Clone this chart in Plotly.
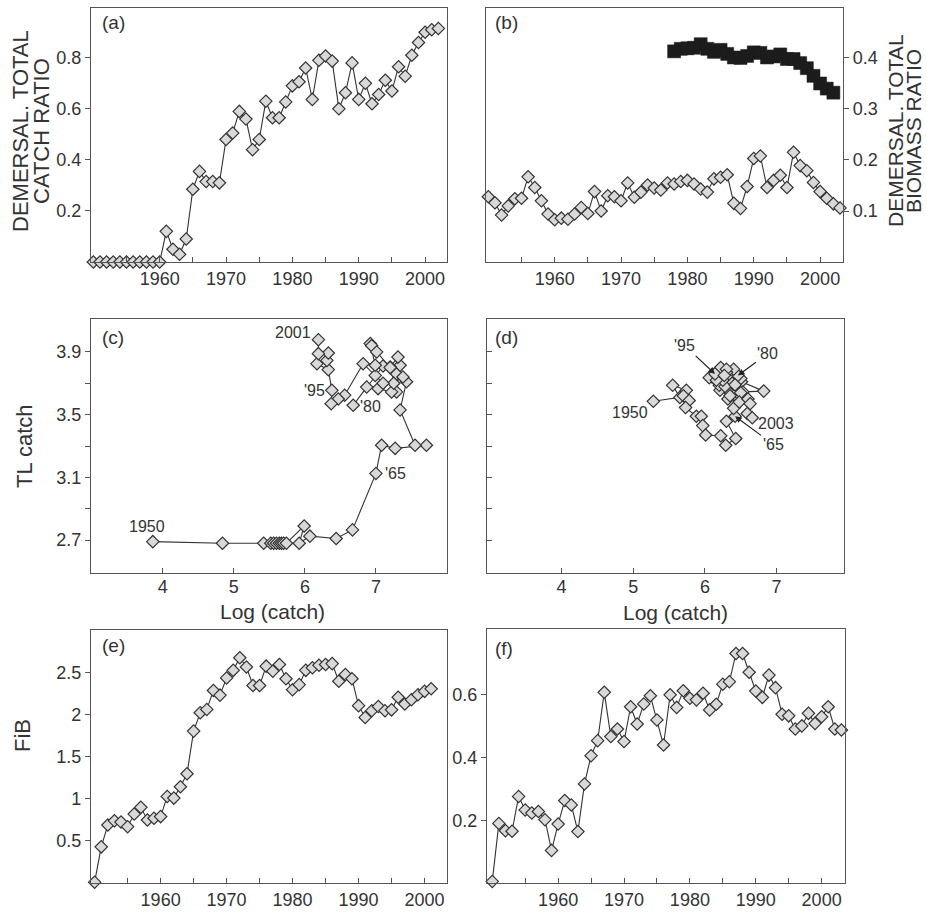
import plotly.graph_objects as go

W, H = 927, 912

# ---------------- data ----------------
years_a = list(range(1950, 2003))
catch_ratio = [0.0, 0.0, 0.0, 0.0, 0.0, 0.0, 0.0, 0.0, 0.0, 0.0, 0.0,
               0.12, 0.05, 0.03, 0.09, 0.285, 0.355, 0.315, 0.315, 0.31, 0.48,
               0.505, 0.59, 0.56, 0.44, 0.48, 0.63, 0.565, 0.565, 0.627, 0.69,
               0.706, 0.76, 0.637, 0.79, 0.807, 0.787, 0.60, 0.663, 0.78, 0.637,
               0.70, 0.62, 0.656, 0.712, 0.67, 0.765, 0.728, 0.81, 0.86, 0.90,
               0.91, 0.915]

years_b = list(range(1950, 2004))
biomass_ratio_catch = [0.128, 0.116, 0.092, 0.11, 0.124, 0.125, 0.167, 0.146, 0.12, 0.094,
                       0.083, 0.086, 0.084, 0.094, 0.107, 0.095, 0.138, 0.10, 0.13, 0.128,
                       0.12, 0.155, 0.127, 0.137, 0.151, 0.145, 0.141, 0.155, 0.153, 0.158,
                       0.16, 0.153, 0.143, 0.137, 0.163, 0.166, 0.171, 0.115, 0.105, 0.148,
                       0.203, 0.208, 0.146, 0.16, 0.17, 0.146, 0.215, 0.189, 0.179, 0.156,
                       0.138, 0.125, 0.114, 0.106]
years_bio = list(range(1978, 2003))
biomass_ratio = [0.413, 0.418, 0.419, 0.42, 0.427, 0.418, 0.412, 0.416, 0.408, 0.401,
                 0.40, 0.404, 0.411, 0.41, 0.401, 0.403, 0.407, 0.398, 0.398, 0.39,
                 0.38, 0.365, 0.35, 0.34, 0.332]

years_c = list(range(1950, 2002))
logcatch_c = [3.86, 4.84, 5.42, 5.52, 5.56, 5.60, 5.64, 5.67, 5.70, 5.74,
              5.99, 5.92, 6.07, 6.44, 6.67, 7.00, 7.08, 7.27, 7.71, 7.55,
              7.34, 7.43, 7.29, 7.34, 7.31, 7.20, 7.29, 7.22, 7.03, 6.87,
              6.68, 6.99, 7.10, 6.99, 6.92, 6.94, 7.01, 7.20, 7.38, 7.25,
              7.10, 6.82, 6.56, 6.47, 6.37, 6.38, 6.33, 6.17, 6.31, 6.33,
              6.19, 6.19]
tl_c = [2.69, 2.68, 2.68, 2.68, 2.68, 2.68, 2.68, 2.68, 2.68, 2.68,
        2.79, 2.68, 2.725, 2.71, 2.765, 3.125, 3.305, 3.285, 3.305, 3.305,
        3.53, 3.71, 3.76, 3.815, 3.867, 3.804, 3.645, 3.645, 3.666, 3.676,
        3.56, 3.75, 3.81, 3.815, 3.953, 3.94, 3.90, 3.80, 3.74, 3.70,
        3.70, 3.825, 3.624, 3.60, 3.57, 3.655, 3.787, 3.825, 3.846, 3.893,
        3.889, 3.978]

years_d = list(range(1950, 2004))
logcatch_d = [5.28, 5.65, 5.55, 5.74, 5.70, 5.78, 5.73, 5.88, 5.95, 5.97,
              6.01, 6.22, 6.29, 6.43, 6.30, 6.42, 6.40, 6.46, 6.32, 6.44,
              6.34, 6.21, 6.32, 6.20, 6.44, 6.36, 6.51, 6.82, 6.53, 6.50,
              6.46, 6.40, 6.30, 6.23, 6.38, 6.28, 6.45, 6.35, 6.25, 6.18,
              6.22, 6.30, 6.10, 6.06, 6.16, 6.14, 6.27, 6.42, 6.50, 6.48,
              6.60, 6.63, 6.59, 6.66]
tl_d = [3.585, 3.61, 3.687, 3.655, 3.62, 3.59, 3.545, 3.49, 3.49, 3.43,
        3.37, 3.365, 3.305, 3.348, 3.458, 3.49, 3.54, 3.60, 3.60, 3.655,
        3.645, 3.655, 3.72, 3.687, 3.70, 3.75, 3.71, 3.65, 3.645, 3.73,
        3.75, 3.79, 3.77, 3.78, 3.70, 3.68, 3.64, 3.62, 3.72, 3.78,
        3.80, 3.79, 3.74, 3.736, 3.72, 3.76, 3.75, 3.69, 3.64, 3.58,
        3.60, 3.57, 3.507, 3.48]

years_e = list(range(1950, 2002))
fib_e = [0.01, 0.43, 0.69, 0.74, 0.725, 0.67, 0.82, 0.90, 0.75, 0.77,
         0.79, 1.03, 1.01, 1.145, 1.30, 1.807, 2.025, 2.065, 2.29, 2.235,
         2.44, 2.53, 2.68, 2.57, 2.35, 2.35, 2.58, 2.52, 2.60, 2.43,
         2.30, 2.36, 2.53, 2.56, 2.59, 2.60, 2.61, 2.40, 2.48, 2.43,
         2.11, 1.97, 2.05, 2.10, 2.05, 2.06, 2.21, 2.13, 2.18, 2.24,
         2.28, 2.31]

years_f = list(range(1950, 2004))
fib_f = [0.005, 0.19, 0.167, 0.165, 0.276, 0.233, 0.223, 0.228, 0.202, 0.104,
         0.188, 0.263, 0.249, 0.164, 0.316, 0.406, 0.454, 0.608, 0.467, 0.491,
         0.451, 0.562, 0.507, 0.571, 0.597, 0.52, 0.44, 0.60, 0.56, 0.613,
         0.589, 0.584, 0.605, 0.552, 0.57, 0.634, 0.642, 0.732, 0.732, 0.672,
         0.612, 0.592, 0.663, 0.623, 0.538, 0.533, 0.491, 0.501, 0.541, 0.509,
         0.53, 0.562, 0.491, 0.488]

year_ticks = [1955, 1960, 1965, 1970, 1975, 1980, 1985, 1990, 1995, 2000]
year_ticktext = ["", "1960", "", "1970", "", "1980", "", "1990", "", "2000"]
log_ticks = [4, 5, 6, 7]
tl_ticks = [2.7, 2.9, 3.1, 3.3, 3.5, 3.7, 3.9]
tl_ticktext = ["2.7", "", "3.1", "", "3.5", "", "3.9"]

# ---------------- style ----------------
FONT = "Liberation Sans, Arial, sans-serif"
TXT = "#333333"
LINE = "#333333"
FILL = "#d9d9d9"


def dx(l, r):
    return [l / W, r / W]


def dy(t, b):
    return [1 - b / H, 1 - t / H]


def diamond_trace(x, y, xa, ya):
    return go.Scatter(
        x=x, y=y, xaxis=xa, yaxis=ya, mode="lines+markers",
        line=dict(color=LINE, width=1.1),
        marker=dict(symbol="diamond", size=9.5, color=FILL,
                    line=dict(color=LINE, width=1.2)),
        cliponaxis=False, showlegend=False, hoverinfo="skip")


fig = go.Figure()
fig.add_trace(diamond_trace(years_a, catch_ratio, "x", "y"))
fig.add_trace(diamond_trace(years_b, biomass_ratio_catch, "x2", "y2"))
fig.add_trace(go.Scatter(
    x=years_bio, y=biomass_ratio, xaxis="x2", yaxis="y2", mode="markers",
    marker=dict(symbol="square", size=13, color="#1c1c1c",
                line=dict(color="#1c1c1c", width=0.5)),
    cliponaxis=False, showlegend=False, hoverinfo="skip"))
fig.add_trace(diamond_trace(logcatch_c, tl_c, "x3", "y3"))
fig.add_trace(diamond_trace(logcatch_d, tl_d, "x4", "y4"))
fig.add_trace(diamond_trace(years_e, fib_e, "x5", "y5"))
fig.add_trace(diamond_trace(years_f, fib_f, "x6", "y6"))

base_axis = dict(showline=True, linecolor="#555555", linewidth=1.2, mirror=True,
                 showgrid=False, zeroline=False, ticklen=5, tickwidth=1.2,
                 tickcolor="#555555",
                 tickfont=dict(family=FONT, size=18, color=TXT))


def xax(domain, anchor, rng, tickvals, ticktext=None, standoff=0):
    d = dict(base_axis)
    d.update(domain=domain, anchor=anchor, range=rng, ticks="inside",
             tickmode="array", tickvals=tickvals, ticklabelstandoff=standoff)
    if ticktext is not None:
        d["ticktext"] = ticktext
    return d


def yax(domain, anchor, rng, tickvals, ticktext=None, ticks="outside",
        showlabels=True, side="left"):
    d = dict(base_axis)
    d.update(domain=domain, anchor=anchor, range=rng, ticks=ticks,
             tickmode="array", tickvals=tickvals, showticklabels=showlabels,
             side=side)
    if ticktext is not None:
        d["ticktext"] = ticktext
    return d


layout = dict(
    width=W, height=H, margin=dict(l=0, r=0, t=0, b=0),
    paper_bgcolor="white", plot_bgcolor="white",
    font=dict(family=FONT, color=TXT),
    xaxis=xax(dx(91, 447), "y", [1949.65, 2003.3], year_ticks, year_ticktext),
    yaxis=yax(dy(8, 262), "x", [0, 0.995], [0.2, 0.4, 0.6, 0.8],
              ["0.2", "0.4", "0.6", "0.8"]),
    xaxis2=xax(dx(486, 843), "y2", [1949.65, 2003.45], year_ticks, year_ticktext),
    yaxis2=yax(dy(8, 262), "x2", [0, 0.498], [0.1, 0.2, 0.3, 0.4],
               ["0.1", "0.2", "0.3", "0.4"], side="right"),
    xaxis3=xax(dx(91, 447), "y3", [2.99, 8.0], log_ticks, standoff=-3),
    yaxis3=yax(dy(319, 573), "x3", [2.49, 4.11], tl_ticks, tl_ticktext),
    xaxis4=xax(dx(487, 844), "y4", [2.96, 7.94], log_ticks, standoff=-3),
    yaxis4=yax(dy(319, 573), "x4", [2.49, 4.11], tl_ticks, ticks="inside",
               showlabels=False),
    xaxis5=xax(dx(91, 447), "y5", [1949.45, 2003.4], year_ticks, year_ticktext),
    yaxis5=yax(dy(630, 883), "x5", [0, 3.01], [0.5, 1, 1.5, 2, 2.5],
               ["0.5", "1", "1.5", "2", "2.5"]),
    xaxis6=xax(dx(487, 845), "y6", [1949.2, 2003.55], year_ticks, year_ticktext),
    yaxis6=yax(dy(629, 883), "x6", [0, 0.81], [0.2, 0.4, 0.6],
               ["0.2", "0.4", "0.6"]),
)
fig.update_layout(**layout)

ann = []


def paper_text(text, px, py, size=22, angle=0, xanchor="center"):
    ann.append(dict(text=text, x=px / W, y=1 - py / H, xref="paper", yref="paper",
                    showarrow=False, textangle=angle, xanchor=xanchor,
                    yanchor="middle",
                    font=dict(family=FONT, size=size, color=TXT)))


# axis titles
paper_text("DEMERSAL. TOTAL", 21, 131, angle=-90)
paper_text("CATCH RATIO", 42, 131, angle=-90)
paper_text("DEMERSAL. TOTAL", 896, 131, size=21, angle=-90)
paper_text("BIOMASS RATIO", 914, 131, size=21, angle=-90)
paper_text("TL catch", 24, 446, angle=-90)
paper_text("FiB", 22, 736, angle=-90)
paper_text("Log (catch)", 272, 611, size=21)
paper_text("Log (catch)", 675, 612, size=21)

# panel letters
for lab, px, py in [("(a)", 100, 22), ("(b)", 493, 22), ("(c)", 100, 337),
                    ("(d)", 493, 337), ("(e)", 100, 645), ("(f)", 493, 648)]:
    paper_text(lab, px, py, size=19, xanchor="left")


def point_label(text, xs, ys, years, yr, xa, ya, xanchor, xshift, yshift):
    i = years.index(yr)
    ann.append(dict(text=text, x=xs[i], y=ys[i], xref=xa, yref=ya,
                    showarrow=False, xanchor=xanchor, yanchor="middle",
                    xshift=xshift, yshift=yshift,
                    font=dict(family=FONT, size=16, color=TXT)))


point_label("2001", logcatch_c, tl_c, years_c, 2001, "x3", "y3", "right", -5, 7)
point_label("1950", logcatch_c, tl_c, years_c, 1950, "x3", "y3", "center", -6, 15)
point_label("'95", logcatch_c, tl_c, years_c, 1995, "x3", "y3", "right", -5, 0)
point_label("'80", logcatch_c, tl_c, years_c, 1980, "x3", "y3", "left", 5, -1)
point_label("'65", logcatch_c, tl_c, years_c, 1965, "x3", "y3", "left", 7, 0)
point_label("1950", logcatch_d, tl_d, years_d, 1950, "x4", "y4", "right", -3, -11)
point_label("2003", logcatch_d, tl_d, years_d, 2003, "x4", "y4", "left", 4, -6)


def arrow_label(text, yr, ax, ay):
    i = years_d.index(yr)
    ann.append(dict(text=text, x=logcatch_d[i], y=tl_d[i], xref="x4", yref="y4",
                    showarrow=True, ax=ax, ay=ay, arrowhead=2, arrowsize=1.1,
                    arrowwidth=1.2, arrowcolor="#222222", standoff=0,
                    font=dict(family=FONT, size=16, color=TXT)))


arrow_label("'95", 1995, -30, -28)
arrow_label("'80", 1980, 30, -22)
arrow_label("'65", 1965, 38, 28)

fig.update_layout(annotations=ann)
fig.write_html("out.html", config={"displayModeBar": False},
               post_script="document.body.style.margin='0';"
                           "document.body.style.overflow='hidden';")
